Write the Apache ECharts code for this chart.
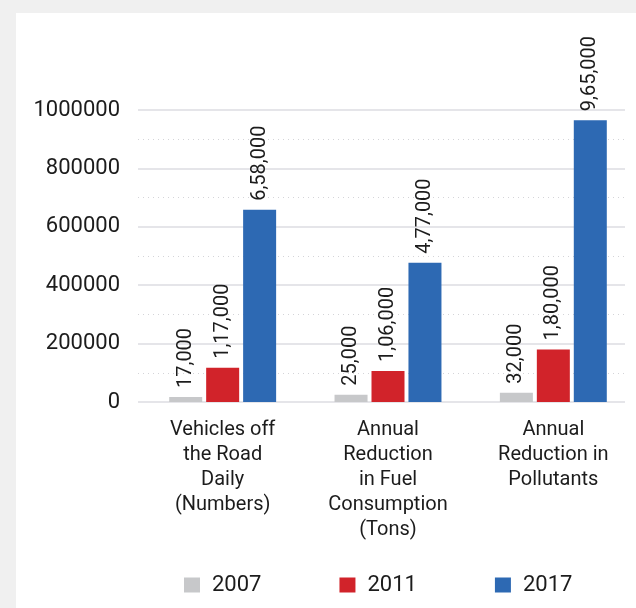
<!DOCTYPE html>
<html>
<head>
<meta charset="utf-8">
<title>Impact over the years</title>
<script src="https://cdn.jsdelivr.net/npm/echarts@6/dist/echarts.min.js"></script>
<style>
  html, body { margin: 0; padding: 0; background: #f0f0f0; }
  #chart { width: 636px; height: 608px; }
</style>
</head>
<body>
<div id="chart"></div>
<script>
// Categories and yearly values
const categories = [
  'Vehicles off\nthe Road\nDaily\n(Numbers)',
  'Annual\nReduction\nin Fuel\nConsumption\n(Tons)',
  'Annual\nReduction in\nPollutants'
];
const years = ['2007', '2011', '2017'];
const values2007 = [17000, 25000, 32000];
const values2011 = [117000, 106000, 180000];
const values2017 = [658000, 477000, 965000];
const yTicks = [0, 200000, 400000, 600000, 800000, 1000000];

const colors = ['#c7c8ca', '#d1232a', '#2d69b3'];
const FONT = 'Roboto, "Noto Sans", sans-serif';
const TEXT = '#1c1c1c';

// Indian digit grouping: 658000 -> 6,58,000
function indianFormat(n) {
  const s = String(Math.round(n));
  if (s.length <= 3) return s;
  const last3 = s.slice(-3);
  let rest = s.slice(0, -3);
  const parts = [];
  while (rest.length > 2) {
    parts.unshift(rest.slice(-2));
    rest = rest.slice(0, -2);
  }
  if (rest) parts.unshift(rest);
  return parts.join(',') + ',' + last3;
}

const seriesValues = [values2007, values2011, values2017];

const chart = echarts.init(document.getElementById('chart'), null, { renderer: 'canvas' });

const option = {
  backgroundColor: '#f0f0f0',
  animation: false,
  textStyle: { fontFamily: FONT, color: TEXT },
  graphic: [{
    type: 'rect',
    z: -10,
    silent: true,
    shape: { x: 16, y: 13, width: 640, height: 620 },
    style: { fill: '#ffffff' }
  }],
  grid: [
    // bars and labels
    { left: 140, top: 110, width: 498, height: 292 },
    // gridlines only
    { left: 138, top: 110, right: 11, height: 292 }
  ],
  legend: {
    data: years,
    left: 184,
    top: 574,
    padding: 0,
    itemWidth: 16,
    itemHeight: 15,
    itemGap: 78,
    icon: 'rect',
    textStyle: { fontSize: 22, color: TEXT, fontFamily: FONT, padding: [0, 0, 0, 7] }
  },
  xAxis: [
    {
      type: 'category',
      gridIndex: 0,
      data: categories,
      axisLine: { show: false },
      axisTick: { show: false },
      axisLabel: {
        interval: 0,
        margin: 15,
        fontSize: 20,
        lineHeight: 25,
        color: TEXT,
        fontFamily: FONT,
        align: 'center'
      },
      splitLine: { show: false }
    },
    {
      type: 'category',
      gridIndex: 1,
      data: categories,
      show: false
    }
  ],
  yAxis: [
    {
      type: 'value',
      gridIndex: 0,
      min: yTicks[0],
      max: yTicks[yTicks.length - 1],
      interval: yTicks[1] - yTicks[0],
      axisLine: { show: false },
      axisTick: { show: false },
      axisLabel: {
        margin: 20,
        fontSize: 22,
        color: TEXT,
        fontFamily: FONT,
        formatter: v => String(v)
      },
      splitLine: { show: false }
    },
    {
      type: 'value',
      gridIndex: 1,
      min: yTicks[0],
      max: yTicks[yTicks.length - 1],
      interval: yTicks[1] - yTicks[0],
      axisLine: { show: false },
      axisTick: { show: false },
      axisLabel: { show: false },
      splitLine: { show: true, lineStyle: { color: '#dcdce2', width: 1.5 } },
      minorTick: { show: false, splitNumber: 2 },
      minorSplitLine: { show: true, lineStyle: { color: '#d4d4d8', width: 1, type: [1, 4] } }
    }
  ],
  series: years.map((y, i) => ({
    name: y,
    type: 'bar',
    xAxisIndex: 0,
    yAxisIndex: 0,
    data: seriesValues[i],
    barWidth: 33,
    barGap: '12%',
    itemStyle: { color: colors[i] },
    z: 3,
    label: {
      show: true,
      position: 'top',
      rotate: 90,
      align: 'left',
      verticalAlign: 'middle',
      distance: 9,
      fontSize: 20,
      color: TEXT,
      fontFamily: FONT,
      formatter: p => indianFormat(p.value)
    }
  }))
};

chart.setOption(option);
</script>
</body>
</html>
